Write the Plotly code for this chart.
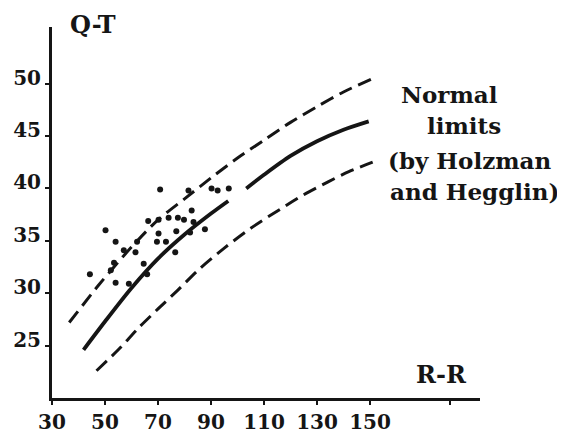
import plotly.graph_objects as go

# ---- data ----
upper_x = [36.5, 47.7, 60, 70, 80, 90, 100, 110, 120, 130, 140, 152]
upper_y = [27.2, 30.8, 34.4, 37.0, 39.0, 41.0, 42.9, 44.6, 46.3, 47.8, 49.2, 50.6]

mean_a_x = [41.9, 50, 60, 70, 80, 90, 96.5]
mean_a_y = [24.6, 27.3, 30.5, 33.3, 35.6, 37.6, 38.8]
mean_b_x = [103.3, 110, 120, 130, 140, 149.5]
mean_b_y = [40.0, 41.3, 43.1, 44.5, 45.6, 46.4]

lower_x = [46.8, 55, 62.7, 70, 77.1, 86, 95, 105, 116, 125, 134, 142, 151]
lower_y = [22.6, 24.6, 26.7, 28.5, 30.2, 32.4, 34.3, 36.2, 38.0, 39.4, 40.6, 41.6, 42.5]

dots_x = [44.3, 50.2, 54.0, 53.4, 54.0, 59.0, 57.1, 61.5, 62.1, 64.6, 65.9, 66.3,
          70.2, 70.8, 74.0, 77.5, 79.8, 82.7, 83.4, 70.2, 76.9, 82.1, 87.7, 69.6,
          73.0, 76.5, 81.5, 90.2, 92.5, 96.7, 52.2]
dots_y = [31.8, 36.0, 34.9, 32.9, 31.0, 30.9, 34.1, 33.9, 34.9, 32.8, 31.8, 36.9,
          37.0, 39.9, 37.2, 37.2, 37.0, 37.9, 36.8, 35.7, 35.9, 35.8, 36.1, 34.9,
          34.9, 33.9, 39.8, 40.0, 39.8, 40.0, 32.2]

x_ticks = [30, 50, 70, 90, 110, 130, 150]
x_extra_tick = [180]          # unlabelled tick mark on the reference axis
y_ticks = [25, 30, 35, 40, 45, 50]

note_lines = ["Normal", "limits", "(by Holzman", "and Hegglin)"]

# ---- figure ----
INK = "#151515"
FONT = "DejaVu Serif"

fig = go.Figure()
dash_style = dict(color=INK, width=3, dash="14px,7px", shape="spline", smoothing=0.8)
fig.add_trace(go.Scatter(x=upper_x, y=upper_y, mode="lines", line=dash_style, hoverinfo="skip"))
fig.add_trace(go.Scatter(x=lower_x, y=lower_y, mode="lines", line=dash_style, hoverinfo="skip"))
solid_style = dict(color=INK, width=3.8, shape="spline", smoothing=0.8)
fig.add_trace(go.Scatter(x=mean_a_x, y=mean_a_y, mode="lines", line=solid_style, hoverinfo="skip"))
fig.add_trace(go.Scatter(x=mean_b_x, y=mean_b_y, mode="lines", line=solid_style, hoverinfo="skip"))
fig.add_trace(go.Scatter(x=dots_x, y=dots_y, mode="markers",
                         marker=dict(color=INK, size=6, line=dict(width=0))))

# page body has an 8px margin, so the figure is 8px smaller and margins shifted
fig.update_layout(
    width=557, height=427,
    margin=dict(l=44, r=85, t=19, b=37, autoexpand=False),
    paper_bgcolor="white", plot_bgcolor="white",
    showlegend=False,
    font=dict(family=FONT, size=20, color=INK),
)
tick_font = dict(family=FONT, size=20, color=INK, weight="bold")
fig.update_xaxes(
    range=[30, 191.5], showgrid=False, zeroline=False, automargin=False,
    showline=True, linecolor=INK, linewidth=3,
    tickmode="array", tickvals=x_ticks + x_extra_tick,
    ticktext=[str(v) for v in x_ticks] + ["" for _ in x_extra_tick],
    ticks="outside", ticklen=4, tickwidth=2, tickcolor=INK,
    tickfont=tick_font,
)
fig.update_yaxes(
    range=[20, 55.4], showgrid=False, zeroline=False, automargin=False,
    showline=True, linecolor=INK, linewidth=3,
    tickmode="array", tickvals=y_ticks, ticktext=[str(v) for v in y_ticks],
    ticks="outside", ticklen=4, tickwidth=2, tickcolor=INK,
    ticklabelshift=-6,
    tickfont=tick_font,
)

note_font = dict(family=FONT, size=23, color=INK, weight="bold")
title_font = dict(family=FONT, size=24, color=INK, weight="bold")
fig.add_annotation(x=0.0958, y=1.008, xref="paper", yref="paper", text="Q-T",
                   xanchor="center", yanchor="middle", showarrow=False, font=title_font)
fig.add_annotation(x=0.9089, y=0.062, xref="paper", yref="paper", text="R-R",
                   xanchor="center", yanchor="middle", showarrow=False, font=title_font)
note_x = [0.9276, 0.9626, 0.9766, 0.9860]
note_y = [0.8194, 0.7332, 0.6415, 0.5553]
for t, nx, ny in zip(note_lines, note_x, note_y):
    fig.add_annotation(x=nx, y=ny, xref="paper", yref="paper", text=t,
                       xanchor="center", yanchor="middle", showarrow=False, font=note_font)

fig.write_html("out.html")
